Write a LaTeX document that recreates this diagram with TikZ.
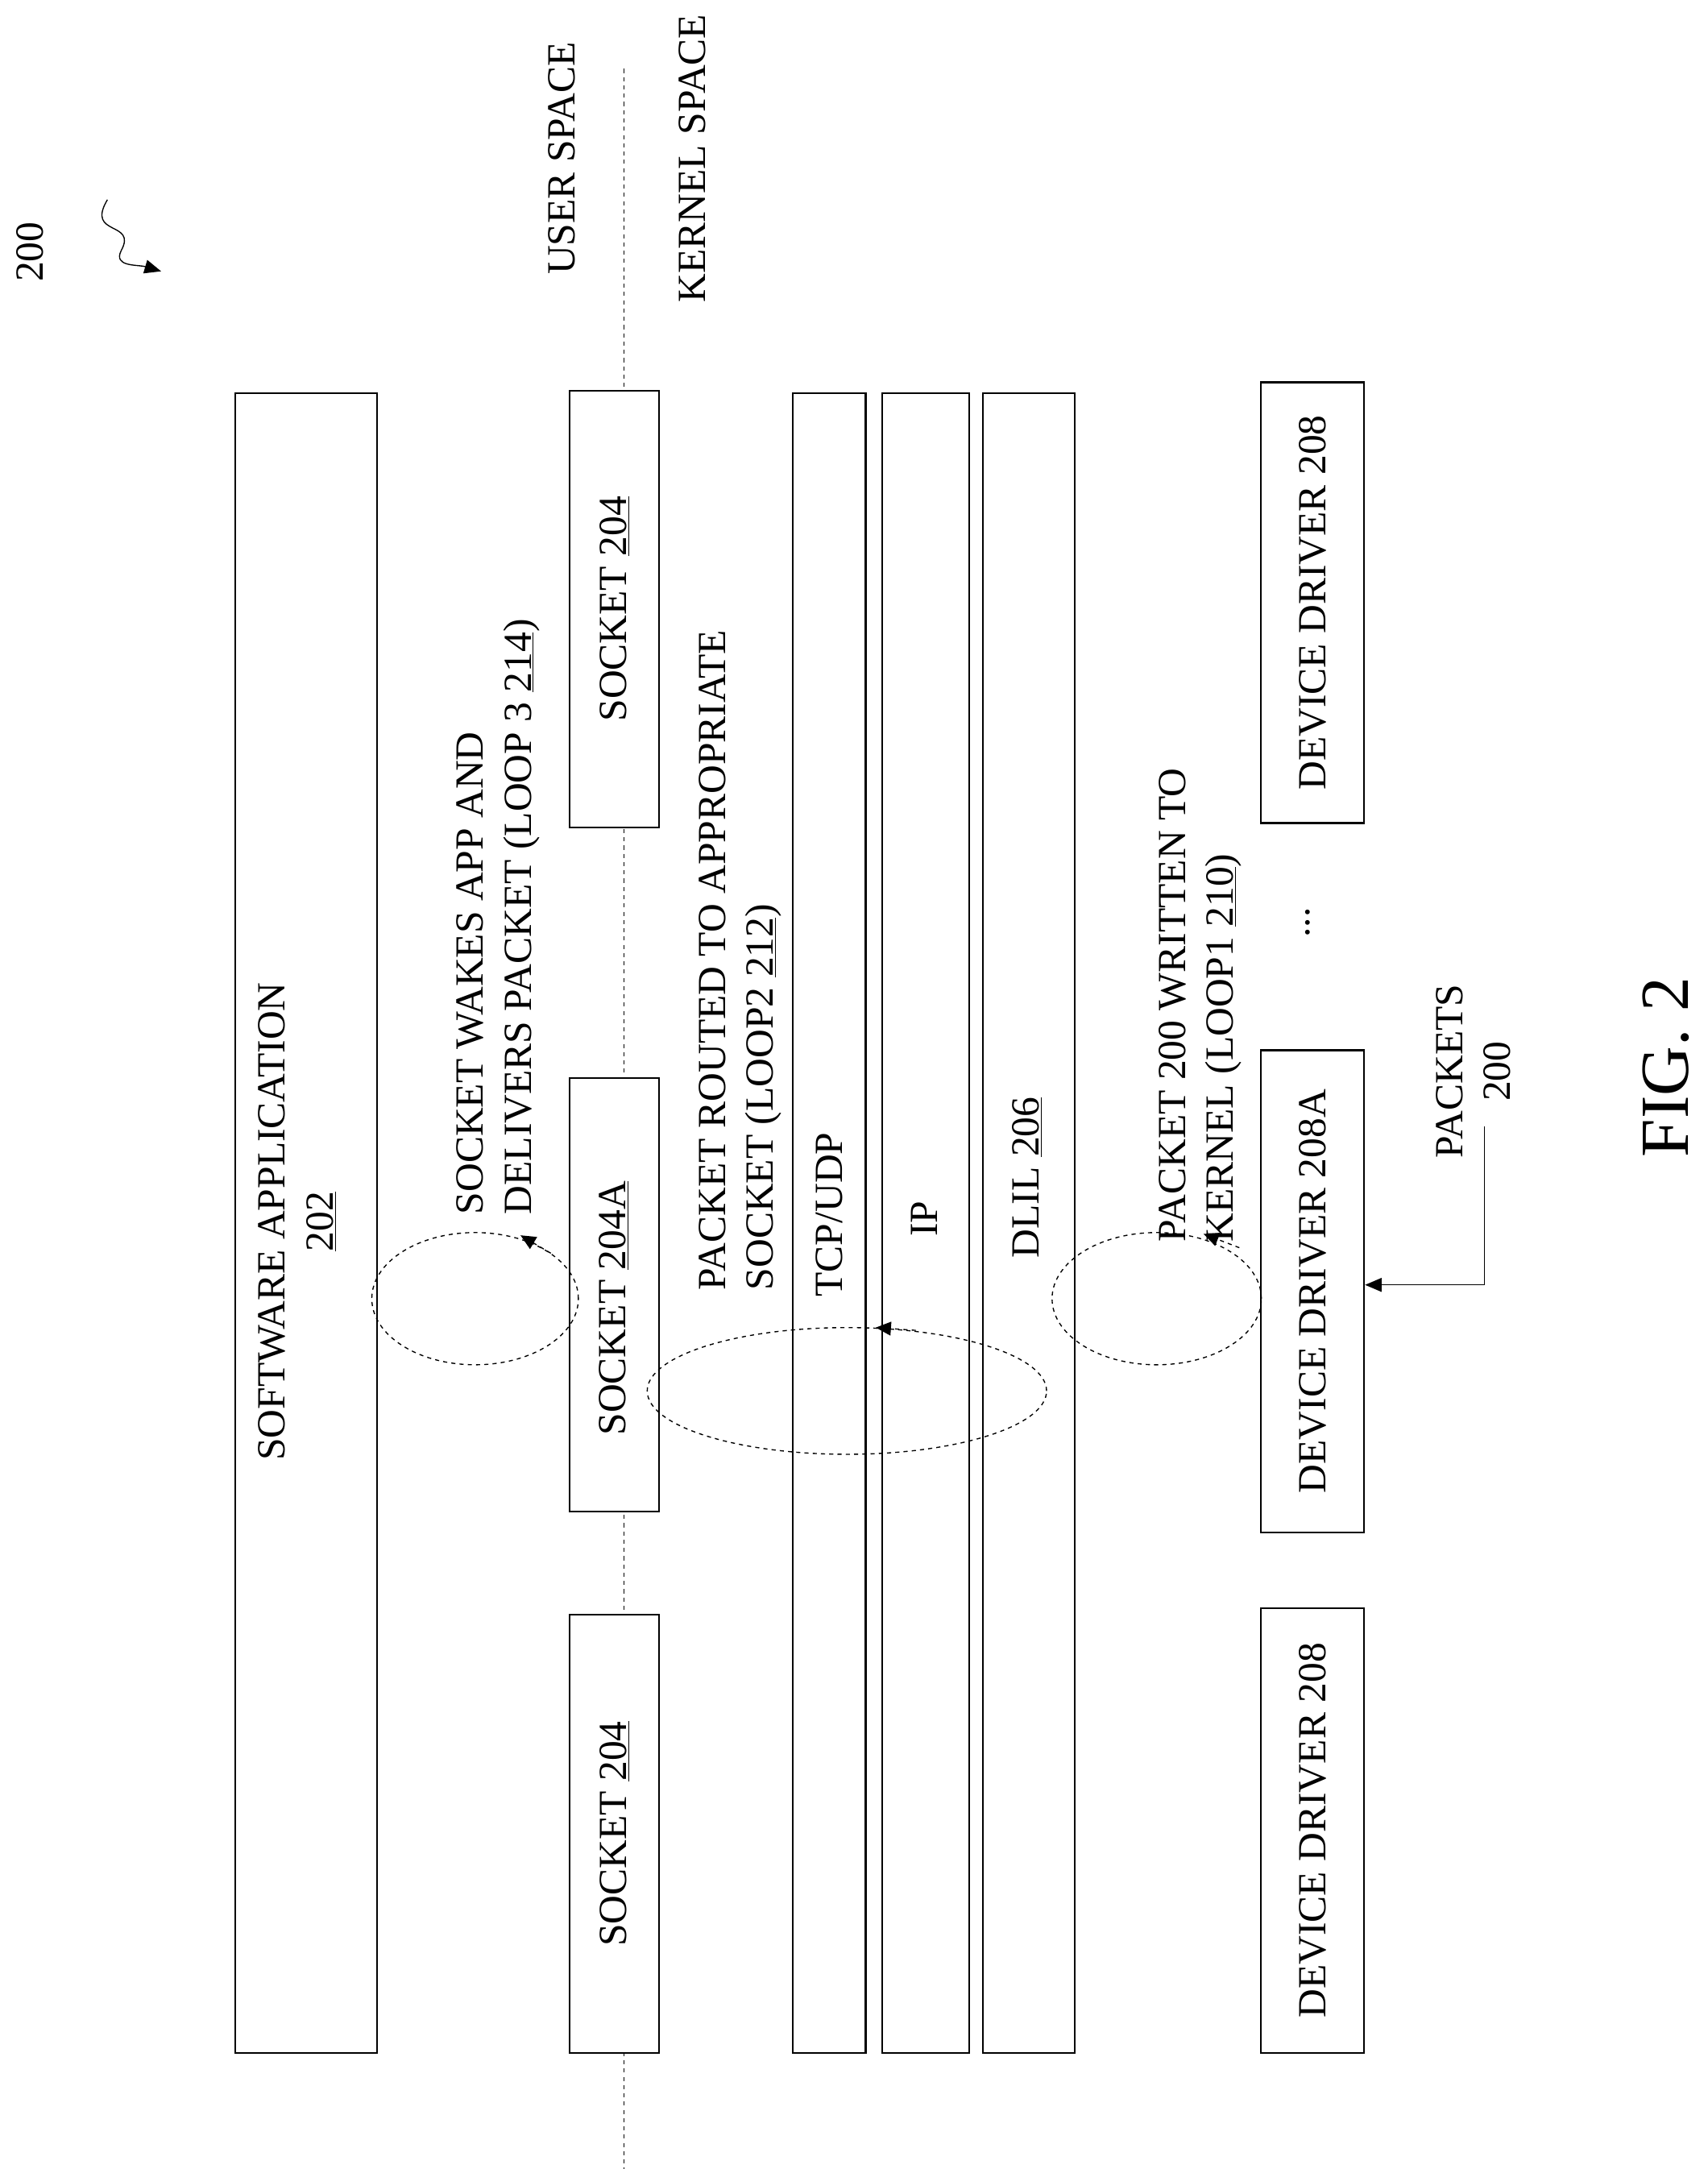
\documentclass[tikz,border=0pt]{standalone}
\usepackage{fontspec}
\setmainfont{Liberation Serif}
\usetikzlibrary{arrows.meta}
\begin{document}
\begin{tikzpicture}[x=1pt,y=-1pt,
  box/.style={draw,fill=white,line width=1.3pt},
  lbl/.style={rotate=90,font=\fontsize{29}{35}\selectfont,inner sep=0pt},
  ann/.style={lbl,anchor=south west,align=left},
  loop/.style={draw,dashed,line width=0.8pt},
  arr/.style={-{Triangle[length=11pt,width=10pt]},dashed,line width=0.8pt}]
\useasboundingbox (0,0) rectangle (1240,1575);
% user/kernel divider
\draw[dashed,line width=0.6pt] (453,50) -- (453,1575);
\node[lbl] (us) at (408,115) {USER SPACE};
\node[lbl] (ks) at (503,115) {KERNEL SPACE};
\node[lbl] (fig200) at (22,183) {200};
\coordinate (sq1) at (78,145);
\coordinate (sq2) at (117,197);
\draw[line width=0.8pt,-{Triangle[length=12pt,width=10pt]}] (sq1) .. controls (62,172) and (100,160) .. (88,182) .. controls (82,194) and (100,192) .. (sq2);
% boxes
\node[box,minimum width=103pt,minimum height=1205pt,anchor=north west] (app) at (170,285) {};
\node[lbl,align=center] (appt) at (216,887) {SOFTWARE APPLICATION\\\underline{202}};
\node[box,minimum width=65pt,minimum height=317pt,anchor=north west] (s1) at (413,283) {};
\node[lbl] at (s1) {SOCKET \underline{204}};
\node[box,minimum width=65pt,minimum height=315pt,anchor=north west] (s2) at (413,782) {};
\node[lbl] at (446,950) {SOCKET \underline{204A}};
\node[box,minimum width=65pt,minimum height=318pt,anchor=north west] (s3) at (413,1172) {};
\node[lbl] at (s3) {SOCKET \underline{204}};
\node[box,minimum width=53pt,minimum height=1205pt,anchor=north west] (tcp) at (575,285) {};
\node[lbl] at (602,882) {TCP/UDP};
\node[box,minimum width=63pt,minimum height=1205pt,anchor=north west] (ip) at (640,285) {};
\node[lbl] at (671,885) {IP};
\node[box,minimum width=67pt,minimum height=1205pt,anchor=north west] (dlil) at (713,285) {};
\node[lbl] at (746,855) {DLIL \underline{206}};
\node[box,minimum width=75pt,minimum height=320pt,anchor=north west] (d1) at (915,277) {};
\node[lbl] at (d1) {DEVICE DRIVER 208};
\node[box,minimum width=75pt,minimum height=350pt,anchor=north west] (d2) at (915,762) {};
\node[lbl] at (d2) {DEVICE DRIVER 208A};
\node[box,minimum width=75pt,minimum height=323pt,anchor=north west] (d3) at (915,1167) {};
\node[lbl] at (d3) {DEVICE DRIVER 208};
\node[lbl] (dots) at (950,670) {...};
% packets
\node[lbl,align=center] (pk) at (1070,778) {PACKETS\\200};
\coordinate (pk1) at (1078,818);
\coordinate (pk2) at (1078,933);
\draw[line width=0.8pt,-{Triangle[length=12pt,width=10pt]}] (pk1) -- (pk2) -- (d2.south east |- pk2);
\node[lbl] (fig) at (1210,775) {\fontsize{50}{56}\selectfont FIG. 2};
% annotations
\node[ann] (a3) at (392,882) {SOCKET WAKES APP AND\\DELIVERS PACKET (LOOP 3 \underline{214})};
\node[ann] (a2) at (568,937) {PACKET ROUTED TO APPROPRIATE\\SOCKET (LOOP2 \underline{212})};
\node[ann] (a1) at (902,902) {PACKET 200 WRITTEN TO\\KERNEL (LOOP1 \underline{210})};
% loops
\draw[loop] (345,943) ellipse [x radius=75pt,y radius=48pt];
\coordinate (l3) at (378,897);
\draw[arr] (400,910) -- (l3);
\draw[loop] (615,1010) ellipse [x radius=145pt,y radius=46pt];
\coordinate (l2) at (636,964);
\draw[arr] (665,966) -- (l2);
\draw[loop] (840,943) ellipse [x radius=76pt,y radius=48pt];
\coordinate (l1) at (874,896);
\draw[arr] (900,906) -- (l1);
\end{tikzpicture}
\end{document}
